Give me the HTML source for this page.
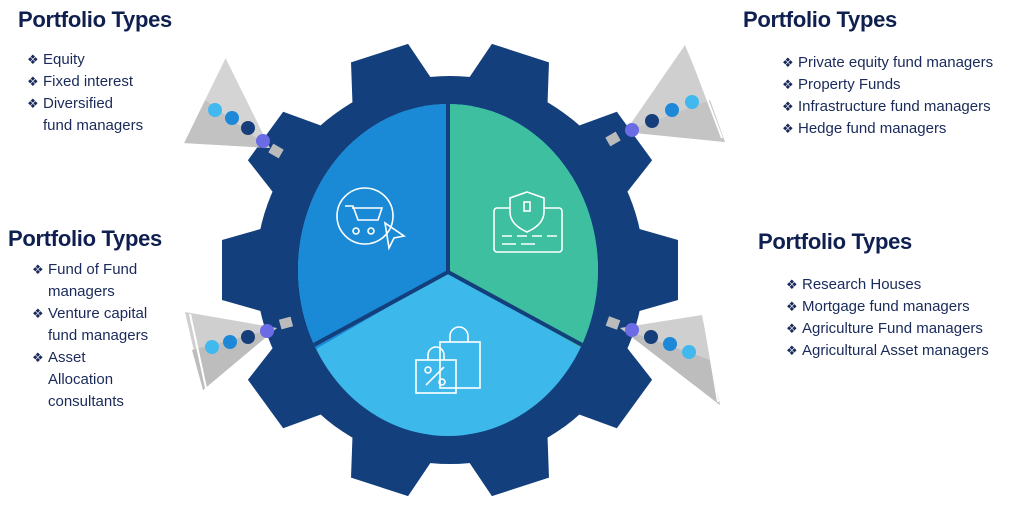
<!DOCTYPE html>
<html><head><meta charset="utf-8"><style>
body{margin:0;width:1028px;height:514px;background:#fff;position:relative;overflow:hidden;font-family:"Liberation Sans",Arial,sans-serif}
.h{position:absolute;font-weight:bold;font-size:22px;color:#0f1f4f;white-space:nowrap;letter-spacing:-0.3px}
.l{position:absolute;font-size:15px;color:#1a2a5a;white-space:nowrap;line-height:22px}
.l span{display:inline-block;width:16px;font-size:13px;vertical-align:0px}
svg{position:absolute;left:0;top:0}
</style></head><body>
<svg width="1028" height="514" viewBox="0 0 1028 514">
<g fill="#133f7c">
<circle cx="450" cy="270" r="194"/>
<polygon points="636,228 678,240 678,300 636,312"/>
<polygon points="636,228 678,240 678,300 636,312" transform="rotate(36 450 270)"/>
<polygon points="636,228 678,240 678,300 636,312" transform="rotate(72 450 270)"/>
<polygon points="636,228 678,240 678,300 636,312" transform="rotate(108 450 270)"/>
<polygon points="636,228 678,240 678,300 636,312" transform="rotate(144 450 270)"/>
<polygon points="636,228 678,240 678,300 636,312" transform="rotate(180 450 270)"/>
<polygon points="636,228 678,240 678,300 636,312" transform="rotate(216 450 270)"/>
<polygon points="636,228 678,240 678,300 636,312" transform="rotate(252 450 270)"/>
<polygon points="636,228 678,240 678,300 636,312" transform="rotate(288 450 270)"/>
<polygon points="636,228 678,240 678,300 636,312" transform="rotate(324 450 270)"/>
</g>
<clipPath id="c"><ellipse cx="448" cy="270" rx="150" ry="166"/></clipPath>
<g clip-path="url(#c)">
<rect x="290" y="100" width="320" height="340" fill="#3cb9ea"/>
<polygon points="448,272 448,90 280,90 280,370" fill="#1b8ad6"/>
<polygon points="448,272 448,90 620,90 620,370" fill="#3dbfa0"/>
<g stroke="#133f7c" stroke-width="4"><line x1="448" y1="272" x2="448" y2="95"/><line x1="448" y1="272" x2="290" y2="358"/><line x1="448" y1="272" x2="606" y2="358"/></g>
</g>
<g fill="none" stroke="#fff" stroke-width="1.6">
<circle cx="365" cy="216" r="28"/><path d="M345 206h8l5 14h20l4-12h-30"/><circle cx="356" cy="231" r="3"/><circle cx="371" cy="231" r="3"/><path d="M385 223l4 25 5-10 10-2z"/>
<rect x="494" y="208" width="68" height="44" rx="3"/><path d="M527 192l17 6v14c0 10-8 16-17 20-9-4-17-10-17-20v-14z" fill="#3dbfa0"/><rect x="524" y="202" width="6" height="9"/><path d="M502 236h10m5 0h10m5 0h10m5 0h10M502 244h14m5 0h14"/>
<rect x="416" y="360" width="40" height="33"/><path d="M428 360v-5a8 8 0 0 1 16 0v5"/><rect x="440" y="342" width="40" height="46"/><path d="M450 342v-6a9 9 0 0 1 18 0v6"/><path d="M426 385l18-18"/><circle cx="428" cy="370" r="3"/><circle cx="442" cy="382" r="3"/>
</g>
<g>
<polygon points="183,143 225,57 270,148" fill="#d4d4d4"/><polygon points="183,143 205,100 270,148" fill="#c2c2c2"/><line x1="183" y1="143" x2="225" y2="57" stroke="#fff" stroke-width="2"/>
<rect x="270" y="146" width="12" height="10" fill="#bbb" transform="rotate(30 276 151)"/>
<circle cx="215" cy="110" r="7" fill="#41b8ee"/><circle cx="232" cy="118" r="7" fill="#1e88d8"/><circle cx="248" cy="128" r="7" fill="#153e7a"/><circle cx="263" cy="141" r="7" fill="#6b6be6"/>
<polygon points="185,312 203,390 277,328" fill="#cfcfcf"/><polygon points="192,350 203,390 277,328" fill="#bdbdbd"/><line x1="190" y1="314" x2="206" y2="388" stroke="#fff" stroke-width="2"/>
<rect x="280" y="318" width="12" height="10" fill="#bbb" transform="rotate(-15 286 323)"/>
<circle cx="212" cy="347" r="7" fill="#41b8ee"/><circle cx="230" cy="342" r="7" fill="#1e88d8"/><circle cx="248" cy="337" r="7" fill="#153e7a"/><circle cx="267" cy="331" r="7" fill="#6b6be6"/>
<polygon points="685,45 725,142 625,132" fill="#cfcfcf"/><polygon points="710,100 725,142 625,132" fill="#c4c4c4"/><line x1="688" y1="48" x2="722" y2="138" stroke="#fff" stroke-width="2"/>
<rect x="607" y="134" width="12" height="10" fill="#bbb" transform="rotate(-30 613 139)"/>
<circle cx="632" cy="130" r="7" fill="#6b6be6"/><circle cx="652" cy="121" r="7" fill="#153e7a"/><circle cx="672" cy="110" r="7" fill="#1e88d8"/><circle cx="692" cy="102" r="7" fill="#41b8ee"/>
<polygon points="702,315 720,405 620,328" fill="#cfcfcf"/><polygon points="710,360 720,405 620,328" fill="#bdbdbd"/><line x1="704" y1="318" x2="718" y2="402" stroke="#fff" stroke-width="2"/>
<rect x="607" y="318" width="12" height="10" fill="#bbb" transform="rotate(20 613 323)"/>
<circle cx="632" cy="330" r="7" fill="#6b6be6"/><circle cx="651" cy="337" r="7" fill="#153e7a"/><circle cx="670" cy="344" r="7" fill="#1e88d8"/><circle cx="689" cy="352" r="7" fill="#41b8ee"/>
</g>
</svg>
<div class="h" style="left:18px;top:7px">Portfolio Types</div>
<div class="l" style="left:27px;top:49px"><span>❖</span>Equity<br><span>❖</span>Fixed interest<br><span>❖</span>Diversified<br><span></span>fund managers</div>
<div class="h" style="left:743px;top:7px">Portfolio Types</div>
<div class="l" style="left:782px;top:52px"><span>❖</span>Private equity fund managers<br><span>❖</span>Property Funds<br><span>❖</span>Infrastructure fund managers<br><span>❖</span>Hedge fund managers</div>
<div class="h" style="left:8px;top:226px">Portfolio Types</div>
<div class="l" style="left:32px;top:259px"><span>❖</span>Fund of Fund<br><span></span>managers<br><span>❖</span>Venture capital<br><span></span>fund managers<br><span>❖</span>Asset<br><span></span>Allocation<br><span></span>consultants</div>
<div class="h" style="left:758px;top:229px">Portfolio Types</div>
<div class="l" style="left:786px;top:274px"><span>❖</span>Research Houses<br><span>❖</span>Mortgage fund managers<br><span>❖</span>Agriculture Fund managers<br><span>❖</span>Agricultural Asset managers</div>
</body></html>
